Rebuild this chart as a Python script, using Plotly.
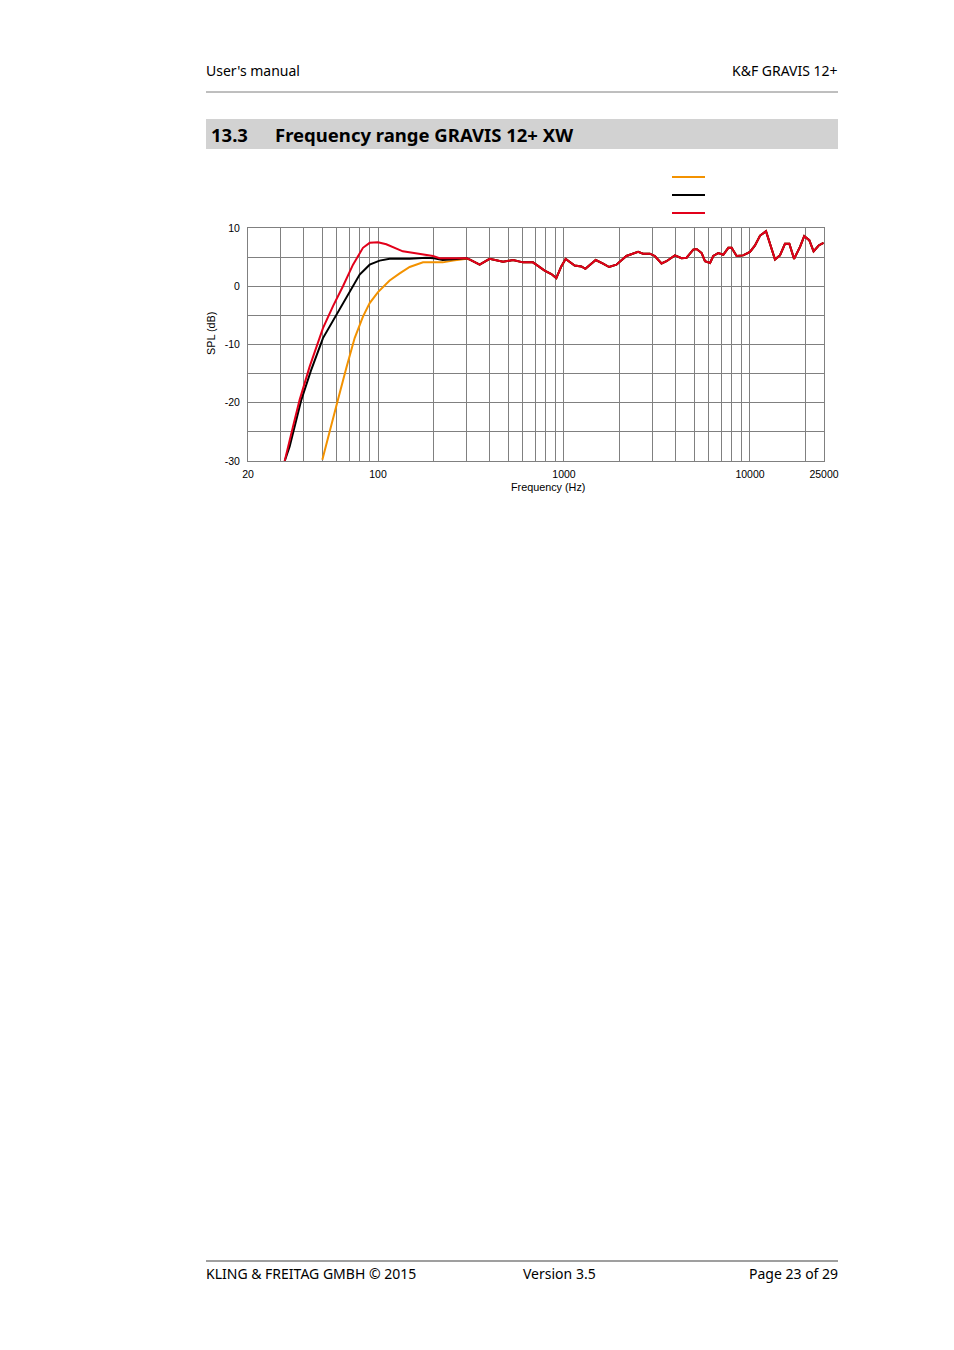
import plotly.graph_objects as go

# frequency response GRAVIS 12+ XW
# low-frequency part differs per curve, above ~300 Hz the curves coincide
freq_orange_low = [50.2, 54.9, 60.9, 67.6, 74.9, 83, 90.2, 100, 115.5, 130.8, 148, 174.6, 200, 223, 253, 300]
spl_orange_low = [-29.8, -25.2, -19.5, -14.0, -8.9, -5.2, -2.9, -1.0, 1.0, 2.2, 3.3, 4.1, 4.1, 4.1, 4.4, 4.7]

freq_black_low = [31.5, 33.5, 38.7, 43.8, 50.6, 59.7, 67.6, 79.7, 90.2, 102, 115.5, 148, 182, 200, 223, 253, 300]
spl_black_low = [-30, -27.5, -19.5, -14.3, -8.9, -4.9, -2.0, 2.0, 3.7, 4.4, 4.7, 4.7, 4.9, 4.8, 4.5, 4.6, 4.8]

freq_red_low = [31.5, 32.8, 34.9, 37.9, 42.9, 50.6, 57.3, 64.8, 73.4, 83.0, 90.2, 100, 110.8, 136, 167.5, 197.5, 214, 253, 300]
spl_red_low = [-30, -27.5, -24.1, -19.5, -13.8, -7.2, -3.4, 0, 3.7, 6.6, 7.45, 7.55, 7.2, 6.0, 5.6, 5.2, 4.8, 4.75, 4.8]

freq_high = [310, 352, 398, 470, 532, 601, 681, 709, 787, 855, 909, 967, 1021, 1141, 1240, 1303,
             1481, 1622, 1748, 1913, 2166, 2503, 2661, 2893, 3077, 3345, 3557, 3947, 4284, 4563,
             4954, 5164, 5497, 5729, 6099, 6348, 6750, 7184, 7647, 7967, 8474, 9182, 10000, 10640,
             11330, 12190, 13630, 14490, 15420, 16280, 17260, 18600, 19570, 20830, 21980, 23400, 24850]
spl_high = [4.6, 3.7, 4.7, 4.2, 4.5, 4.1, 4.1, 3.7, 2.7, 2.1, 1.4, 3.4, 4.7, 3.55, 3.4, 3.0,
            4.5, 3.9, 3.3, 3.7, 5.2, 5.9, 5.6, 5.6, 5.2, 3.9, 4.3, 5.3, 4.8, 4.9,
            6.3, 6.4, 5.7, 4.3, 4.0, 5.2, 5.7, 5.4, 6.6, 6.6, 5.2, 5.3, 5.9, 7.0,
            8.7, 9.45, 4.6, 5.3, 7.3, 7.3, 4.7, 6.8, 8.6, 7.9, 6.0, 7.0, 7.45]

x_grid = [20, 30, 40, 50, 60, 70, 80, 90, 100, 200, 300, 400, 500, 600, 700, 800, 900,
          1000, 2000, 3000, 4000, 5000, 6000, 7000, 8000, 9000, 10000, 20000, 25000]
x_labels = {20: "20", 100: "100", 1000: "1000", 10000: "10000", 25000: "25000"}
y_grid = [-30, -25, -20, -15, -10, -5, 0, 5, 10]
y_labels = {-30: "-30", -20: "-20", -10: "-10", 0: "0", 10: "10"}

ORANGE = "#f39200"
RED = "#e2001a"
GRID = "#808080"

OFF = 8  # page body margin
W, H = 954 - 2 * OFF, 1350 - 2 * OFF
PL, PR, PT, PB = 248, 824, 228, 461  # plot area in page pixels


def px(x):
    return (x - PL) / (PR - PL)


def py(y):
    return (PB - y) / (PB - PT)


fig = go.Figure()
for f_low, s_low, col in [(freq_orange_low, spl_orange_low, ORANGE),
                          (freq_black_low, spl_black_low, "black"),
                          (freq_red_low, spl_red_low, RED)]:
    fig.add_trace(go.Scatter(x=f_low + freq_high, y=s_low + spl_high, mode="lines",
                             line=dict(color=col, width=2), showlegend=False,
                             hoverinfo="skip"))

text_font = dict(family="Noto Sans", size=14, color="black")
chart_font = dict(family="Liberation Sans", size=10.5, color="black")
head_font = dict(family="Noto Sans", size=18.5, color="black")

shapes = [
    # header rule, heading box, footer rule
    dict(type="line", xref="paper", yref="paper", x0=px(206), x1=px(838), y0=py(92), y1=py(92),
         line=dict(color="#7f7f7f", width=1)),
    dict(type="rect", xref="paper", yref="paper", x0=px(206), x1=px(838), y0=py(149), y1=py(119),
         fillcolor="#d2d2d2", line=dict(width=0), layer="below"),
    dict(type="line", xref="paper", yref="paper", x0=px(206), x1=px(838), y0=py(1261), y1=py(1261),
         line=dict(color="#7f7f7f", width=1.5)),
]
# legend samples (no text in original)
for yy, col in [(177, ORANGE), (195, "black"), (213, RED)]:
    shapes.append(dict(type="line", xref="paper", yref="paper", x0=px(672), x1=px(705),
                       y0=py(yy), y1=py(yy), line=dict(color=col, width=2)))

# annotation boxes carry ~2px padding, positions compensate for it
annotations = [
    dict(text="User's manual", x=px(204), y=py(70), xanchor="left", yanchor="middle", font=text_font),
    dict(text="K&F GRAVIS 12+", x=px(840), y=py(70), xanchor="right", yanchor="middle", font=text_font),
    dict(text="<b>13.3</b>", x=px(209), y=py(134), xanchor="left", yanchor="middle", font=head_font),
    dict(text="<b>Frequency range GRAVIS 12+ XW</b>", x=px(273), y=py(134), xanchor="left",
         yanchor="middle", font=head_font),
    dict(text="SPL (dB)", x=px(211), y=py(334), textangle=-90, xanchor="center", yanchor="middle",
         font=dict(family="Liberation Sans", size=10.8, color="black")),
    dict(text="Frequency (Hz)", x=px(548), y=py(487), xanchor="center", yanchor="middle",
         font=dict(family="Liberation Sans", size=10.8, color="black")),
    dict(text="KLING & FREITAG GMBH © 2015", x=px(204), y=py(1273), xanchor="left", yanchor="middle",
         font=text_font),
    dict(text="Version 3.5", x=px(559), y=py(1273), xanchor="center", yanchor="middle", font=text_font),
    dict(text="Page 23 of 29", x=px(840), y=py(1273), xanchor="right", yanchor="middle", font=text_font),
]
for a in annotations:
    a.update(xref="paper", yref="paper", showarrow=False)

fig.update_layout(
    width=W, height=H,
    margin=dict(l=PL - OFF, r=W - (PR - OFF), t=PT - OFF, b=H - (PB - OFF), autoexpand=False),
    paper_bgcolor="white", plot_bgcolor="white",
    shapes=shapes, annotations=annotations,
    xaxis=dict(type="log", range=[1.30103, 4.39794], tickvals=x_grid,
               ticktext=[x_labels.get(v, "") for v in x_grid], tickangle=0,
               showgrid=True, gridcolor=GRID, gridwidth=1, showline=True, linecolor=GRID,
               mirror=True, ticks="", tickfont=chart_font, zeroline=False, ticklabelstandoff=3),
    yaxis=dict(range=[-30, 10], tickvals=y_grid, ticktext=[y_labels.get(v, "") for v in y_grid],
               showgrid=True, gridcolor=GRID, gridwidth=1, showline=True, linecolor=GRID,
               mirror=True, ticks="", tickfont=chart_font, zeroline=False, ticklabelstandoff=5),
)

fig.write_html("out.html")
